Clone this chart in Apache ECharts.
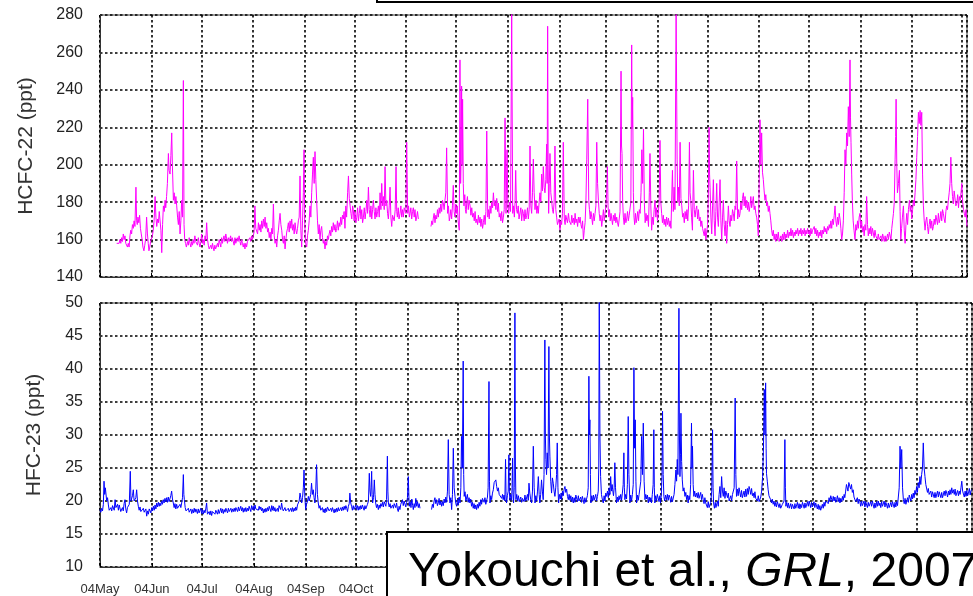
<!DOCTYPE html>
<html><head><meta charset="utf-8">
<script src="https://cdn.jsdelivr.net/npm/echarts@6/dist/echarts.min.js"></script>
<style>html,body{margin:0;padding:0;background:#fff}#c{width:973px;height:596px}</style>
</head><body><div id="c"></div>
<script>
// time origin: 1 May 2004; x values are days since then
const startDate = [2004, 4, 1];
const endDay = 521;
const monthNames = ['Jan','Feb','Mar','Apr','May','Jun','Jul','Aug','Sep','Oct','Nov','Dec'];
const yTop = {name: 'HCFC-22 (ppt)', min: 140, max: 280, step: 20};
const yBottom = {name: 'HFC-23 (ppt)', min: 10, max: 50, step: 5};
const citation = ['Yokouchi et al., ', 'GRL', ', 2007'];

// HCFC-22 (ppt): [day, value]
const hcfc22 = [
[10.0,158],[10.5,157],[11.0,159],[11.5,158],[12.0,160],[12.5,158],[13.0,161],[13.5,159],[14.0,163],[14.5,160],[15.0,162],[15.5,158],[16.0,157],[16.5,156],[17.0,158],[17.5,156],[18.0,162],[18.5,165],[19.0,163],[19.5,168],[20.0,166],[20.5,170],[21.0,167],[21.6,188],[22.0,170],[22.4,168],[22.8,172],[23.3,169],[23.8,173],[24.3,166],[24.8,163],[25.3,160],[25.8,156],[26.4,154],[26.9,157],[27.4,160],[28.0,172],[28.5,163],[29.0,158],[29.4,154],[29.9,156],[30.4,159],[31.0,160],[31.5,162],[32.0,165],[32.5,170],[33.1,183],[33.6,172],[34.1,167],[34.6,171],[35.1,169],[35.6,175],[36.1,174],[36.6,165],[37.1,153],[37.6,168],[38.1,178],[38.6,175],[39.1,181],[39.5,177],[40.0,183],[40.5,190],[41.1,206],[41.5,197],[42.1,195],[42.6,205],[43.1,217],[43.5,200],[44.1,181],[44.6,185],[45.1,179],[45.6,183],[46.1,178],[46.6,172],[47.1,168],[47.6,175],[48.1,163],[48.6,170],[49.1,181],[49.6,172],[50.1,245],[50.5,168],[50.9,160],[51.4,158],[51.9,156],
[52.6,159],[53.1,157],[53.6,161],[54.1,158],[54.6,156],[55.1,159],[55.6,157],[56.0,160],[56.5,158],[57.0,162],[57.5,159],[58.1,160],[58.6,157],[59.1,161],[59.6,158],[60.1,156],[60.6,159],[61.1,163],[61.6,158],[62.1,160],[62.6,157],[63.1,162],[63.6,160],[64.1,169],[64.6,160],[65.1,157],[65.6,155],[66.1,154],[66.6,157],[67.1,155],[67.6,158],[68.0,156],[68.5,154],[69.0,157],[69.5,155],[70.1,155],[70.6,158],[71.1,156],[71.6,160],[72.1,159],[72.6,156],[73.1,161],[73.6,158],[74.0,157],[74.5,162],[75.0,159],[75.6,163],[76.1,162],[76.6,158],[77.1,161],[77.6,159],[78.0,158],[78.5,162],[79.0,159],[79.5,161],[80.1,160],[80.6,157],[81.1,161],[81.6,158],[82.0,157],[82.5,161],[83.0,159],[83.6,162],[84.1,159],[84.6,157],[85.1,160],[85.6,158],[86.1,156],[86.6,158],[87.1,155],[87.6,158],[88.1,156],[88.6,159],[89.1,160],[89.6,158],[90.1,161],[90.6,159],[91.1,162],[91.6,160],[92.1,162],
[92.6,164],[93.1,178],[93.6,166],[94.2,167],[94.7,163],[95.2,169],[95.7,165],[96.2,168],[96.7,164],[97.2,170],[97.7,166],[98.2,171],[98.7,167],[99.2,172],[99.7,166],[100.2,169],[100.7,164],[101.2,166],[101.7,161],[102.2,164],[102.7,160],[103.2,166],[103.7,163],[104.2,179],[104.7,162],[105.2,158],[105.7,160],[106.2,156],[106.7,162],[107.2,165],[107.7,170],[108.2,174],[108.7,168],[109.2,165],[109.7,160],[110.2,158],[110.7,162],[111.2,155],[111.7,160],[112.2,164],[112.7,166],[113.2,169],[113.7,164],[114.2,170],[114.7,166],[115.2,171],[115.7,165],[116.2,168],[116.7,163],[117.2,169],[117.7,165],[118.2,163],[118.7,166],[119.2,170],[119.7,172],[120.2,194],[120.7,165],[121.2,156],[121.7,170],[122.2,185],[122.6,208],[123.0,170],[123.5,158],[124.2,156],[124.7,162],[125.2,165],[125.7,170],[126.2,178],[126.7,172],[127.2,185],[127.7,195],[128.2,204],[128.7,190],[129.2,207],[129.7,192],[130.2,181],[130.7,170],[131.2,163],[131.7,168],[132.2,160],[132.7,165],[133.2,167],[133.7,161],[134.2,158],[134.7,160],[135.2,155],[135.7,159],[136.2,157],[136.7,162],[137.2,160],
[137.7,163],[138.2,165],[138.7,162],[139.2,167],[139.7,164],[140.2,169],[140.7,165],[141.2,168],[141.7,164],[142.2,166],[142.7,170],[143.2,165],[143.7,169],[144.2,167],[144.7,172],[145.2,168],[145.7,173],[146.2,171],[146.7,175],[147.2,166],[147.7,178],[148.2,172],[148.8,185],[149.3,194],[149.8,182],[150.3,181],[150.8,174],[151.3,171],[151.8,178],[152.2,176],[152.7,170],[153.2,175],[153.8,169],[154.3,172],[154.8,177],[155.3,170],[155.8,174],[156.3,178],[156.8,171],[157.3,176],[157.8,169],[158.3,172],[158.8,177],[159.3,171],[159.8,175],[160.3,181],[160.8,174],[161.3,188],[161.8,176],[162.3,172],[162.8,178],[163.3,171],[163.8,176],[164.3,181],[164.8,175],[165.3,171],[165.8,177],[166.3,172],[166.8,175],[167.3,178],[167.8,172],[168.3,185],[168.8,176],[169.3,190],[169.8,178],[170.3,183],[170.8,176],[171.3,199],[171.8,178],[172.3,181],[172.8,174],[173.3,171],[173.8,178],[174.3,188],[174.8,172],[175.3,167],[175.8,173],[176.3,174],[176.8,170],[177.4,176],[177.9,199],[178.3,175],[178.7,172],[179.2,177],[179.7,171],[180.3,174],[180.8,178],[181.3,172],[181.8,176],[182.3,172],[182.8,177],[183.3,178],[183.8,174],[184.3,212],[184.9,174],[185.4,178],[185.9,172],[186.3,174],[186.8,177],[187.3,171],[187.8,175],[188.3,177],[188.8,172],[189.3,176],[189.8,170],[190.3,172],[190.8,175],[191.3,171],
[195,null],
[198.9,167],[199.4,170],[199.9,168],[200.3,171.5],[200.8,174],[201.3,169],[201.8,173],[202.3,171],[202.8,176],[203.3,172],[203.8,177],[204.3,174],[204.8,179],[205.3,175],[205.8,181],[206.3,179.5],[206.8,176],[207.3,181],[207.8,185],[208.3,209],[208.9,174],[209.4,178],[209.9,170],[210.3,172],[210.8,176],[211.3,171],[211.8,178],[212.3,189],[212.8,175],[213.3,172],[213.8,179],[214.3,174],[214.7,178],[215.2,170],[215.9,165],[216.3,256],[216.7,190],[216.9,199],[217.3,242],[217.6,200],[217.9,235],[218.3,190],[218.7,178],[219.2,184],[219.6,176],[220.0,174],[220.4,180],[220.8,183],[221.3,176],[221.8,181],[222.4,178],[222.9,173],[223.4,177],[223.9,172],[224.4,174],[224.9,170],[225.4,175],[225.9,169],[226.4,171],[226.9,168],[227.4,173],[227.9,169],[228.4,172],[228.9,167],[229.4,171],[229.9,166],[230.4,169],[230.9,173],[231.4,168],[231.9,175],[232.4,218],[233.0,172],[233.5,176],[233.9,171],[234.4,178],[234.9,174],[235.4,180],[235.9,177],[236.4,185],[236.9,178],[237.4,181],[237.9,176],[238.4,182],[238.9,175],[239.4,179.5],[239.9,172],[240.4,174],[240.9,170],[241.4,175],[241.9,169],[242.4,172],[242.9,176],[243.4,225],[244.0,174],[244.6,208],[245.1,178],[245.6,174],[246.1,180],[246.7,175],[247.4,281],[248.0,174],[248.5,178],[249.0,172],[249.4,180],[249.8,197],[250.3,176],[250.8,174],[251.3,178],[251.8,171],[252.4,172],[252.9,177],[253.4,170],[253.9,176],[254.4,174],[254.9,170],[255.4,176],[255.9,171],[256.4,173],[256.9,177],[257.4,171],[257.9,176],[258.4,210],[258.9,178],[259.4,174],[259.9,185],[260.4,203],[260.9,185],[261.4,176],[262.0,181],[262.5,174],[263.0,178],[263.4,174],[263.9,180],[264.4,185],[264.9,180],[265.4,195],[265.9,186],[266.4,199],[266.9,188],[267.4,185],[267.9,192],[268.4,211],[268.7,190],[269.0,274],[269.3,200],[269.6,174],[270.0,190],[270.4,206],[270.9,185],[271.4,181],[271.9,176],[272.4,174],[272.9,180],[273.4,210],[273.9,176],[274.4,172],[274.9,168],[275.4,167],[275.9,171],[276.4,165],[276.9,170],[277.4,168],[277.9,174],[278.4,212],[279.0,171],[279.5,168],[279.9,173],[280.4,172],[280.9,169],[281.5,174],[282.0,170],[282.5,171],[283.0,168],[283.5,173],[284.0,169],[284.5,171.5],[285.0,168],[285.5,174],[286.0,169],[286.5,171],[287.0,167],[287.5,172],[288.0,169],[288.5,172],[289.0,168],[289.5,166],[290.0,170],[290.5,160],[291.0,165],[291.5,169],[292.0,180],[292.5,203],[293.1,235],[293.7,181],[294.1,176],[294.6,171],[295.0,175],[295.5,172],[296.0,168],[296.5,174],[297.0,170],[297.5,174],[298.0,178],[298.5,212],[299.0,190],[299.5,181],[300.0,174],[300.5,170],[301.0,173],[301.5,167],[302.0,171],[302.5,176],[303.0,170],[303.5,174],[304.0,178],[304.5,185],[304.9,199],[305.3,178],[305.7,172],[306.2,176],[306.6,170],[307.1,174],[307.5,171],[308.0,168],[308.5,173],[309.0,170],[309.5,174],[310.0,169],[310.5,172],[311.0,169],[311.5,167],[312.0,171],[312.5,175],[313.1,250],[313.4,210],[313.7,206],[314.1,180],[314.5,172],[315.0,168],[315.5,174],[316.0,169],[316.5,171],[317.0,175],[317.5,170],[318.0,173],[318.5,174],[319.0,180],[319.5,264],[319.8,220],[320.1,236],[320.5,185],[320.9,172],[321.3,168],[321.8,174],[322.2,169],[322.6,171],[323.1,175],[323.6,170],[324.1,176],[324.6,174],[325.1,185],[325.6,208],[326.1,190],[326.6,219],[327.1,180],[327.6,169],[328.1,174],[328.6,170],[329.1,173],[329.6,167],
[330.1,185],[330.5,206],[331.0,178],[331.5,165],[332.0,172],[332.5,168],[333.0,176],[333.5,181],[334.0,172],[334.5,177],[335.0,170],[335.5,174],[336.0,180],[336.5,213],[337.0,180],[337.5,174],[338.0,169],[338.5,173],[339.0,168],[339.5,171],[340.0,167],[340.5,172],[341.0,168],[341.6,171.5],[342.1,167],[342.6,170],[343.1,166],[343.6,167],[344.0,197],[344.5,175],[345.0,188],[345.5,176],[346.2,281],[346.8,203],[347.2,180],[347.6,188],[348.1,178],[348.6,212],[349.1,182],[349.6,178],[350.1,172],[350.6,174],[351.1,169],[351.6,175],[352.2,171],[352.7,176],[353.2,170],[353.7,178],[354.2,212],[354.6,185],[355.0,181],[355.5,172],[356.0,165],[356.6,197],[357.1,176],[357.6,172],[358.1,176],[358.6,178],[359.1,171],[359.6,176],[360.1,170],[360.6,172],[361.1,167],[361.6,170],[362.1,166],[362.6,165],[363.1,162],[363.6,166],[364.1,160],[364.6,160],[365.1,168],[365.5,180],[366.0,220],[366.3,195],[366.6,188],[367.1,172],[367.6,163],[368.1,178],[368.6,192],[369.1,170],[369.6,162],[370.1,175],[370.6,190],[371.1,172],[371.6,167],[372.1,180],[372.6,192],[373.1,170],[373.6,160],[374.1,172],[374.6,181],[375.1,168],[375.6,162],[376.1,170],[376.6,158],[377.1,168],[377.6,178],[378.1,170],[378.6,167],[379.1,173],[379.6,170],[380.1,176],[380.6,174],[381.1,170],[381.6,178],[382.1,176],[382.6,202],[383.2,171],[383.7,176],[384.2,172],[384.6,174],[385.1,180],[385.6,176],[386.1,182],[386.6,185],[387.1,178],[387.6,183],[388.1,177],[388.6,181],[389.1,176],[389.6,180],[390.1,175],[390.6,178],[391.1,183],[391.6,177],[392.1,180],[392.6,183],[393.1,176],[393.6,178],[394.1,174],[394.6,172],[395.1,168],[395.6,162],[396.1,190],[396.6,224],[397.1,200],[397.6,217],[398.1,196],[398.6,192],[399.1,186],[399.6,181],[400.1,184],[400.6,178],[401.1,180],[401.6,175],[402.1,178],[402.6,174],[403.1,170],[403.6,165],[404.1,162],[404.6,165],[405.1,160],[405.6,163],[406.1,159],[406.6,163],[407.1,160],[407.6,164],[408.1,159],[408.7,158],[409.2,162],[409.7,159],
[410.2,163],[410.7,160],[411.2,164],[411.7,160],[412.2,163],[412.7,161],[413.2,165],[413.7,161],[414.2,164],[414.7,162],[415.2,166],[415.7,162],[416.2,165],[416.7,161],[417.2,164],[417.7,162],[418.2,165],[418.7,163],[419.2,166],[419.7,162],[420.2,165],[420.7,163],[421.2,166],[421.7,162],[422.2,165],[422.7,163],[423.2,166],[423.7,162],[424.2,165],[424.7,163],[425.2,166],[425.7,163],[426.2,165],[426.7,162],[427.2,166],[427.7,163],[428.2,165],[428.7,164],[429.2,167],[429.7,163],[430.2,166],[430.7,162],[431.2,165],[431.7,161],[432.2,164],[432.7,162],[433.2,165],[433.7,161],[434.2,165],[434.7,163],[435.2,167],[435.7,164],[436.2,166],[436.7,163],[437.2,167],[437.7,165],[438.2,168],[438.7,166],[439.2,170],[439.7,166],[440.2,171],[440.7,168],[441.2,173],[441.7,178],[442.2,170],[442.7,167],[443.2,172],[443.7,168],[444.2,174],[444.7,171],[445.2,166],[445.7,160],
[446.2,163],[446.7,170],[447.2,185],[447.7,208],[448.2,200],[448.7,217],[449.2,210],[449.7,231],[450.2,215],[450.7,256],[451.0,225],[451.3,212],[451.7,195],[452.1,181],[452.6,170],[453.1,165],[453.7,160],[454.2,168],[454.7,165],[455.2,170],[455.7,166],[456.2,172],[456.7,174],[457.2,166],[457.7,170],[458.2,164],[458.7,167],[459.2,162],[459.7,168],[460.2,165],[460.7,183],[461.2,168],[461.7,162],[462.2,166],[462.7,163],[463.2,167],[463.7,162],[464.2,166],[464.7,165],[465.2,161],[465.7,165],[466.2,162],[466.7,163],[467.2,160],[467.7,163],[468.2,160],[468.8,159],[469.3,162],[469.8,159],[470.3,163],[470.8,162],[471.3,159],[471.8,162],[472.3,159],[472.8,160],[473.3,163],[473.8,160],[474.3,164],[474.8,163],[475.3,160],[475.8,166],[476.3,170],[476.8,174],[477.3,180],[477.8,203],[478.1,215],[478.4,235],[478.8,200],[479.2,185],[479.8,190],[480.4,197],[480.8,175],[481.2,160],[481.7,166],[482.2,172],[482.8,178],[483.3,165],[483.8,158],[484.3,168],[484.8,174],[485.3,168],[485.8,176],[486.4,181],[486.9,175],[487.3,178],[487.8,171],[488.3,176],[488.8,181],[489.3,178],[489.8,185],[490.3,192],[490.8,204],[491.3,215],[491.8,228],[492.3,222],[492.8,229],[493.3,221],[493.8,228],[494.3,195],[494.8,178],[495.3,170],[495.8,165],[496.3,170],[496.8,172],[497.3,167],[497.8,163],[498.3,168],[498.8,171],[499.3,166],[499.8,170],[500.3,165],[500.8,167],[501.3,171],[501.8,168],[502.3,173],[502.8,172],[503.3,168],[503.8,174],[504.3,169],[504.8,171],[505.3,175],[505.8,170],[506.3,176],[506.8,174],[507.3,171],[507.8,169],[508.3,175],[508.8,178],[509.3,176],[509.8,181],[510.3,185],[510.8,190],[511.3,204],[511.8,190],[512.3,183],[512.8,179],[513.3,186],[513.8,185],[514.3,178],[514.9,179.5],[515.4,184],[515.9,177],[516.4,183],[516.9,181],[517.4,185],[517.9,190],[518.4,180],[518.9,176],[519.4,174],[519.9,172],[520.4,176],[521.0,167]
];

// HFC-23 (ppt): [day, value]
const hfc23 = [
[0,18.7],[0.5,18.3],[1.0,18.9],[1.5,18.5],[2.0,19.5],[2.4,23.0],[2.8,21.0],[3.2,22.0],[3.6,21.7],[4.0,20.0],[4.5,20.5],[5.0,19.4],[5.5,18.6],[6.0,18.4],[6.5,19.0],[7.0,18.5],[7.5,19.3],[8.0,19.4],[8.5,18.6],[9.0,20.2],[9.5,19.0],[10.0,18.7],[10.5,19.5],[11.0,18.6],[11.5,19.4],[11.9,19.2],[12.4,18.4],[12.9,18.2],[13.4,19.0],[13.9,18.5],[14.4,19.6],[14.9,20.2],[15.4,18.8],[15.9,18.2],[16.4,19.0],[16.9,18.7],[17.5,19.5],[18.1,24.5],[18.5,20.0],[18.9,19.7],[19.4,20.8],[19.9,21.7],[20.4,20.0],[20.9,19.7],[21.4,20.5],[21.9,21.7],[22.4,20.0],[22.9,19.2],[23.4,18.6],[23.9,19.1],[24.4,18.4],[24.9,18.7],[25.4,18.2],[25.9,18.9],[26.4,18.3],[26.9,18.2],[27.4,18.8],[27.9,17.7],[28.4,18.5],[28.9,18.0],[29.4,18.8],[29.9,18.7],[30.4,18.2],[30.9,19.0],[31.4,18.5],[31.9,19.2],[32.4,18.6],[32.9,19.4],[33.4,18.8],[33.9,19.7],[34.4,19.1],[34.9,19.8],[35.4,19.2],[35.8,19.7],[36.3,19.3],[36.8,20.0],[37.3,19.5],[37.8,20.2],[38.3,19.7],[38.8,20.4],[39.3,19.9],[39.8,20.5],[40.3,19.8],[40.8,20.6],[41.3,19.9],[41.8,20.2],[42.3,20.8],[42.8,21.5],[43.3,20.3],[43.8,19.7],[44.3,19.0],[44.8,19.6],[45.3,18.8],[45.8,19.5],[46.3,18.9],[46.8,19.2],[47.3,18.6],[47.8,19.5],[48.3,19.0],[48.8,19.7],[49.3,20.5],[49.8,24.0],[50.1,21.0],[50.4,20.2],[50.9,19.0],[51.4,18.5],[51.8,18.7],[52.3,18.2],[52.8,18.9],[53.3,18.3],[53.8,18.2],[54.3,18.8],[54.8,18.1],[55.3,18.7],[55.8,18.2],[56.3,18.9],[56.8,18.3],[57.3,18.8],[57.7,18.7],[58.2,18.1],[58.7,18.8],[59.2,18.2],[59.7,18.4],[60.2,18.9],[60.7,18.1],[61.2,18.7],[61.7,18.0],[62.2,18.6],[62.7,18.2],[63.2,18.8],[63.7,19.7],[64.2,18.0],[64.7,17.7],[65.2,18.4],[65.7,17.9],[66.2,18.5],[66.7,17.8],[67.2,18.4],[67.7,18.2],[68.2,18.7],[68.7,18.0],[69.2,18.6],[69.7,18.6],[70.2,18.0],[70.7,18.7],[71.2,18.1],[71.7,18.4],[72.2,18.9],[72.7,18.2],[73.2,18.8],[73.7,18.1],[74.2,18.7],[74.7,18.3],[75.2,18.9],[75.7,18.7],[76.2,18.2],[76.7,18.9],[77.2,18.4],[77.7,18.3],[78.2,18.9],[78.7,18.3],[79.2,18.8],[79.7,18.4],[80.2,18.9],[80.7,18.4],[81.2,19.0],[81.7,18.9],[82.2,18.4],[82.7,19.1],[83.2,18.5],[83.6,18.7],[84.1,19.2],[84.6,18.5],[85.1,19.0],[85.6,18.3],[86.1,18.9],[86.6,18.4],[87.1,19.0],[87.6,18.4],[88.1,18.9],[88.6,18.5],[89.1,19.2],[89.6,18.9],[90.1,18.4],[90.6,19.3],[91.1,18.7],[91.6,19.2],[92.1,18.6],[92.6,19.4],[93.1,18.8],[93.6,18.5],[94.1,19.1],[94.6,18.6],[95.1,19.2],[95.6,18.7],[96.1,19.1],[96.6,18.5],[97.1,18.9],[97.6,18.2],[98.1,18.8],[98.6,18.3],[99.1,18.9],[99.6,18.4],[100.1,19.0],[100.6,18.5],[101.1,19.2],[101.6,18.9],[102.1,18.4],[102.6,19.3],[103.0,18.6],[103.5,19.2],[104.0,18.5],[104.5,19.0],[105.0,18.4],[105.5,18.2],[106.0,18.9],[106.5,18.4],[107.0,19.3],[107.5,19.2],[108.0,18.7],[108.5,19.7],[109.0,18.9],[109.5,18.5],[110.0,18.4],[110.5,19.0],[111.0,18.5],[111.5,18.7],[112.0,18.3],[112.5,18.9],[113.0,18.4],[113.5,18.3],[114.0,18.9],[114.5,18.4],[115.0,19.0],[115.5,18.4],[116.0,18.9],[116.5,18.5],[117.0,19.1],[117.5,18.6],[118.0,19.4],[118.5,19.2],[119.0,20.0],[119.5,21.2],[120.0,20.5],[120.5,19.7],[121.0,20.5],[121.5,22.0],[121.9,24.7],[122.4,20.5],[122.9,18.7],[123.4,19.5],[124.0,20.0],[124.5,20.7],[125.0,20.0],[125.4,19.7],[125.9,21.0],[126.4,22.7],[126.9,21.0],[127.4,21.7],[127.9,20.5],[128.4,19.7],[128.9,21.5],[129.4,25.5],[129.9,21.0],[130.4,19.7],[130.9,18.9],[131.4,19.3],[131.9,18.6],[132.4,18.4],[132.9,19.0],[133.4,18.3],[133.9,18.8],[134.4,18.2],[134.9,18.9],[135.4,18.4],[135.9,19.1],[136.4,18.9],[136.9,18.5],
[137.4,18.3],[137.9,18.9],[138.4,18.4],[138.9,19.0],[139.4,18.7],[139.9,18.2],[140.4,18.8],[140.9,18.3],[141.4,18.9],[141.9,18.4],[142.4,19.0],[142.9,18.5],[143.4,18.4],[143.9,19.0],[144.4,18.5],[144.9,19.1],[145.4,18.6],[145.9,19.2],[146.4,18.7],[146.9,19.3],[147.4,18.9],[147.9,18.4],[148.4,19.2],[148.9,19.6],[149.3,21.2],[149.8,19.7],[150.3,19.2],[150.8,18.6],[151.3,19.3],[151.8,18.7],[152.3,18.9],[152.8,19.4],[153.3,18.7],[153.8,19.3],[154.3,18.6],[154.8,19.2],[155.3,18.7],[155.8,19.3],[156.3,18.8],[156.8,19.4],[157.3,19.1],[157.8,18.6],[158.3,19.3],[158.8,18.8],[159.3,18.9],[159.8,19.5],[160.4,20.0],[160.9,24.2],[161.3,21.5],[161.7,20.7],[162.0,22.0],[162.3,24.5],[162.6,21.0],[162.9,19.7],[163.4,20.5],[163.9,23.2],[164.3,21.0],[164.7,19.7],[165.2,19.0],[165.7,19.5],[166.3,18.7],[166.8,19.4],[167.3,18.9],[167.8,19.6],[168.3,19.2],[168.8,19.8],[169.3,19.1],[169.8,19.9],[170.3,19.7],[170.8,19.2],[171.2,20.2],[171.7,26.8],[172.0,21.5],[172.3,19.7],[172.8,19.1],[173.3,19.6],[173.8,18.9],[174.3,18.7],[174.8,19.4],[175.3,18.9],[175.8,19.6],[176.2,19.7],[176.7,19.0],[177.2,19.7],[177.7,18.8],[178.2,18.4],[178.7,19.2],[179.2,18.7],[179.7,19.5],[180.2,19.2],[180.7,20.2],[181.2,19.3],[181.7,20.0],[182.2,19.7],[182.7,19.1],[183.2,19.8],[183.7,20.5],[184.2,23.7],[184.6,20.3],[184.8,19.2],[185.3,19.9],[185.8,19.0],[186.3,20.3],[186.8,19.3],[187.2,18.7],[187.7,19.6],[188.2,19.0],[188.7,20.4],[189.2,19.2],[189.7,19.9],[190.2,19.0],[190.7,19.6],[191.2,18.9],
[195,null],
[198.1,18.7],[198.6,19.5],[199.1,19.0],[199.6,20.0],[200.1,20.5],[200.6,19.6],[201.1,20.2],[201.6,19.3],[202.1,19.7],[202.6,20.4],[203.1,19.4],[203.6,20.0],[204.1,19.2],[204.6,19.9],[205.1,19.3],[205.6,20.3],[206.1,19.7],[206.6,20.6],[207.1,19.8],[207.6,21.5],[208.1,29.3],[208.6,21.0],[209.1,19.7],[209.6,20.5],[210.1,18.7],[210.6,21.0],[211.1,28.0],[211.6,22.0],[212.1,20.7],[212.6,19.6],[213.1,19.2],[213.6,20.3],[214.1,19.4],[214.6,20.6],[215.1,19.7],[215.6,22.0],[216.0,29.8],[216.5,25.0],[217.0,41.2],[217.3,24.0],[217.6,20.7],[218.1,21.4],[218.6,20.0],[219.0,20.2],[219.5,21.0],[220.0,19.8],[220.5,20.5],[221.0,19.7],[221.5,20.3],[222.0,19.2],[222.5,19.8],[223.0,18.9],[223.5,19.6],[224.0,18.8],[224.5,19.4],[225.0,18.7],[225.5,19.5],[226.0,18.9],[226.5,19.8],[227.0,19.2],[227.5,20.2],[228.0,19.5],[228.5,20.4],[229.0,20.7],[229.5,19.8],[230.0,20.5],[230.5,19.5],[231.0,19.7],[231.5,20.6],[231.9,22.0],[232.4,38.1],[232.7,23.0],[233.0,19.7],[233.5,20.8],[234.0,20.2],[234.5,21.2],[235.0,21.7],[235.5,22.8],[236.0,22.5],[236.5,23.2],[237.0,22.2],[237.5,21.5],[238.0,22.0],[238.5,21.0],[239.0,20.7],[239.5,21.3],[240.0,20.4],[240.5,21.0],[240.9,20.2],[241.4,20.9],[241.9,20.0],[242.3,26.3],[242.6,21.0],[242.9,19.7],[243.4,20.8],[243.9,21.5],[244.3,27.0],[244.6,21.5],[244.9,20.2],[245.4,21.0],[245.9,20.1],[246.2,22.0],[246.5,26.5],[246.8,21.0],[247.1,19.7],[247.5,22.0],[247.9,48.5],[248.2,25.0],[248.5,20.2],[249.0,21.0],[249.5,20.0],[250.0,20.8],[250.5,19.9],[250.9,19.7],[251.4,20.6],[251.9,19.8],[252.4,20.4],[252.9,20.7],[253.4,19.9],[253.9,20.9],[254.4,20.0],[254.9,20.2],[255.4,21.0],[255.9,20.1],[256.3,22.7],[256.8,21.2],[257.3,20.3],[257.9,19.7],[258.4,21.5],[258.9,28.3],[259.4,22.0],[259.9,19.7],[260.4,20.8],[260.9,20.0],[261.4,21.5],[261.9,23.7],[262.4,21.0],[262.8,19.7],[263.3,21.0],[263.8,23.2],[264.3,21.5],[264.8,20.2],[265.3,24.0],[265.8,44.4],[266.1,30.0],[266.4,26.3],[266.8,24.0],[267.2,27.3],[267.7,25.0],[268.2,43.4],[268.5,30.0],[268.8,26.8],[269.3,23.0],[269.8,21.2],[270.3,23.5],[270.8,22.7],[271.3,21.5],[271.8,20.7],[272.3,22.0],[272.8,24.0],[273.2,28.8],[273.6,22.0],[274.0,19.7],[274.5,21.0],[275.0,20.3],[275.5,21.2],[275.8,20.2],[276.3,21.5],[276.8,20.8],[277.3,21.8],[277.8,22.2],[278.3,21.3],[278.8,21.8],[279.3,20.7],[279.8,20.2],[280.3,21.0],[280.8,20.1],[281.3,20.8],[281.8,19.9],[282.3,20.6],[282.8,19.7],[283.3,20.5],[283.8,19.8],[284.3,20.9],[284.8,20.7],[285.3,19.9],[285.8,20.8],[286.2,20.0],[286.7,19.7],[287.2,20.6],[287.7,19.8],[288.2,20.7],[288.7,20.2],[289.2,19.6],[289.7,20.5],[290.2,19.8],[290.7,19.7],[291.2,20.8],[291.7,22.0],[292.1,38.9],[292.4,30.0],[292.7,32.3],[293.0,24.0],[293.3,19.7],[293.8,20.8],[294.3,20.0],[294.8,20.9],[295.2,20.1],[295.7,20.2],[296.2,21.0],[296.7,20.0],[297.2,20.7],[297.7,21.5],[298.0,25.0],[298.3,50.5],[298.7,30.0],[299.1,23.7],[299.6,21.0],[300.1,20.3],[300.7,19.7],[301.2,20.8],[301.7,20.0],[302.2,21.2],[302.7,20.7],[303.2,21.5],[303.7,20.5],[304.2,22.0],[304.7,21.0],[305.1,23.7],[305.6,21.5],[306.0,22.5],[306.3,21.7],[306.8,20.8],[307.2,22.0],[307.6,25.8],[308.0,22.0],[308.6,19.7],[309.1,20.6],[309.6,19.9],[310.1,20.8],[310.6,20.2],[311.1,21.0],[311.6,20.1],[312.1,21.2],[312.6,22.5],[313.0,27.3],[313.3,22.0],[313.6,20.2],[314.1,21.0],[314.6,20.3],[315.1,22.5],[315.6,32.8],[316.0,24.0],[316.6,19.7],[317.1,20.9],[317.6,20.0],[318.1,21.0],[318.6,22.5],[319.0,40.2],[319.4,28.0],[319.8,32.3],[320.2,23.0],[320.6,19.7],[321.1,20.9],[321.6,20.1],[322.1,21.0],[322.6,20.7],[323.1,23.0],[323.6,29.8],[324.1,24.0],[324.6,31.8],[325.1,23.0],[325.6,20.2],[326.1,21.0],[326.6,20.3],[327.1,20.9],[327.6,19.7],[328.1,20.6],[328.6,19.9],[329.1,20.5],
[329.5,19.7],[330.0,21.0],[330.5,22.5],[330.9,30.8],[331.2,22.0],[331.5,19.7],[332.0,20.8],[332.5,20.0],[333.0,21.0],[333.5,20.7],[334.0,19.9],[334.5,20.8],[334.9,19.7],[335.4,21.0],[335.8,24.0],[336.1,33.6],[336.5,24.0],[336.9,20.7],[337.4,20.0],[337.9,20.9],[338.5,20.2],[339.0,21.0],[339.5,20.1],[340.0,20.9],[340.5,20.5],[341.0,19.8],[341.5,20.7],[342.0,19.9],[342.5,20.2],[343.0,21.0],[343.5,22.5],[344.1,24.7],[344.5,23.0],[344.9,26.3],[345.3,24.0],[345.9,49.2],[346.2,30.0],[346.5,23.7],[346.8,27.0],[347.1,33.3],[347.5,26.0],[347.9,23.2],[348.4,21.5],[348.9,22.0],[349.5,20.7],[350.0,21.3],[350.5,20.2],[351.0,20.9],[351.4,19.7],[351.9,20.8],[352.4,20.2],[352.9,22.5],[353.4,31.8],[353.7,25.0],[354.0,28.3],[354.4,22.5],[354.8,20.7],[355.3,21.5],[355.8,20.6],[356.4,21.2],[356.9,20.5],[357.4,21.3],[357.9,20.4],[358.4,20.7],[358.9,21.3],[359.4,20.2],[359.9,21.0],[360.4,20.2],[360.9,19.6],[361.4,20.5],[361.9,19.7],[362.4,19.7],[362.9,19.0],[363.4,19.9],[363.9,19.0],[364.4,18.7],[364.9,19.8],[365.5,21.5],[366.0,30.8],[366.3,22.0],[366.6,19.7],[367.1,18.9],[367.6,19.8],[368.0,19.0],[368.4,18.7],[368.9,20.0],[369.4,19.2],[369.9,21.0],[370.4,22.2],[370.9,20.5],[371.4,23.7],[371.9,21.5],[372.4,20.7],[372.9,22.0],[373.4,20.4],[373.9,21.5],[374.4,21.7],[374.9,20.5],[375.4,21.2],[375.9,20.0],[376.4,19.7],[376.9,20.8],[377.4,20.0],[377.9,21.0],[378.4,20.7],[378.9,22.0],[379.5,35.6],[379.9,24.0],[380.3,20.7],[380.8,21.8],[381.3,20.8],[381.8,22.0],[382.3,21.7],[382.8,20.6],[383.3,21.6],[383.8,20.5],[384.3,20.7],[384.8,21.5],[385.3,20.6],[385.8,21.8],[386.3,20.7],[386.8,21.9],[387.3,21.0],[387.8,22.2],[388.3,21.7],[388.8,21.0],[389.3,21.9],[389.8,20.8],[390.3,21.2],[390.8,20.5],[391.3,21.4],[391.8,20.4],[392.3,20.7],[392.8,20.0],[393.3,20.8],[393.8,19.9],[394.3,19.7],[394.8,20.6],[395.3,21.5],[395.9,23.7],[396.4,28.0],[396.9,36.9],[397.3,30.0],[397.7,37.9],[398.0,28.0],[398.2,24.2],[398.7,23.0],[399.2,21.7],[399.7,20.8],[400.2,21.0],[400.7,20.2],[401.2,19.7],[401.7,20.3],[402.2,19.5],[402.7,20.0],[403.2,19.2],[403.7,19.8],[404.2,19.1],[404.7,19.9],[405.2,19.7],[405.7,19.0],[406.2,19.6],[406.7,18.9],[407.2,18.7],[407.7,19.5],[408.2,19.2],[408.7,20.0],[409.2,29.3],[409.5,22.0],[409.8,19.2],
[410.3,19.8],[410.8,19.0],[411.3,19.7],[411.8,18.9],[412.2,18.9],[412.7,19.6],[413.2,18.8],[413.7,19.5],[414.2,19.3],[414.7,18.8],[415.2,19.6],[415.7,18.9],[416.2,19.2],[416.7,19.8],[417.2,18.9],[417.7,19.6],[418.2,18.8],[418.7,19.5],[419.2,19.0],[419.7,19.8],[420.2,19.4],[420.7,18.9],[421.2,19.7],[421.7,19.0],[422.2,19.0],[422.7,19.9],[423.2,19.2],[423.7,20.0],[424.1,19.7],[424.6,19.0],[425.1,19.8],[425.6,19.1],[426.1,19.2],[426.6,19.9],[427.1,19.0],[427.6,19.7],[428.1,19.4],[428.6,18.8],[429.1,19.5],[429.6,18.7],[430.1,19.3],[430.6,18.6],[431.1,18.7],[431.6,19.5],[432.1,18.9],[432.6,19.8],[433.1,19.2],[433.6,20.0],[434.1,19.7],[434.6,20.3],[435.1,19.6],[435.6,20.5],[436.1,19.9],[436.6,20.8],[437.1,20.5],[437.6,19.9],[438.1,20.7],[438.6,20.0],[439.1,20.6],[439.6,19.8],[440.1,20.2],[440.6,20.8],[441.1,19.9],[441.6,20.5],[442.1,19.7],[442.6,20.4],[443.1,19.9],[443.6,20.7],[444.1,20.1],[444.6,21.0],[445.0,20.5],[445.5,21.5],[446.0,22.5],[446.4,22.2],[446.9,21.5],[447.4,22.8],[448.0,22.7],[448.5,21.8],[449.0,22.5],[449.5,21.3],[450.0,21.7],[450.5,20.6],[451.0,20.9],[451.5,19.9],[452.0,19.7],[452.5,20.5],[453.0,19.6],[453.5,20.3],[454.0,19.9],[454.5,19.2],[455.0,20.0],[455.5,19.3],[456.0,19.3],[456.5,20.0],[457.0,19.1],[457.5,19.9],[458.0,19.7],[458.5,19.0],[459.0,19.8],[459.5,19.2],[460.0,19.1],[460.5,19.9],[461.0,19.2],[461.5,20.0],[462.0,19.4],[462.5,18.9],[463.0,19.7],[463.5,19.0],[464.0,19.9],[464.5,19.2],[465.0,20.0],[465.5,19.3],[466.0,19.7],[466.5,19.0],[467.0,19.9],[467.5,19.2],[468.0,19.2],[468.5,20.0],[469.0,19.1],[469.5,19.8],[470.0,19.4],[470.5,18.9],[471.0,19.7],[471.5,19.0],[472.0,19.0],[472.5,19.8],[473.0,19.1],[473.5,19.9],[474.0,19.7],[474.5,19.0],[475.0,19.8],[475.5,19.1],[476.0,19.9],[476.5,19.3],[477.0,19.4],[477.5,22.0],[478.0,28.3],[478.5,25.0],[479.0,27.8],[479.5,22.0],[480.0,20.2],[480.5,19.6],[481.0,20.4],[481.5,19.5],[482.0,19.7],[482.5,20.5],[483.0,19.8],[483.5,20.9],[484.0,20.7],[484.5,20.0],[485.0,21.0],[485.5,20.3],[485.9,21.2],[486.4,20.5],[486.9,21.6],[487.4,21.0],[487.9,22.2],[488.4,21.3],[488.9,22.8],[489.4,22.0],[489.9,23.7],[490.4,22.5],[490.9,24.0],[491.4,25.0],[491.9,28.8],[492.4,25.0],[492.9,23.7],[493.4,22.5],[493.9,22.2],[494.4,21.3],[494.9,21.9],[495.4,21.0],[495.9,20.7],[496.4,21.5],[496.9,20.6],[497.4,21.4],[497.9,21.2],[498.4,20.5],[498.9,21.3],[499.4,20.5],[499.9,20.7],[500.4,21.5],[500.9,20.6],[501.4,21.4],[501.9,21.2],[502.4,20.5],[502.9,21.3],[503.4,20.5],[503.9,20.7],[504.4,21.5],[504.9,20.8],[505.4,21.6],[505.9,21.2],[506.4,20.6],[506.9,21.5],[507.4,20.9],[507.9,21.7],[508.4,21.0],[508.9,22.0],[509.4,21.2],[509.9,21.7],[510.4,21.0],[510.9,21.8],[511.4,20.8],[511.9,20.9],[512.4,21.6],[512.9,20.8],[513.4,21.5],[513.9,21.0],[514.4,22.0],[514.9,23.0],[515.4,21.5],[515.9,21.2],[516.4,20.6],[516.9,21.5],[517.4,20.7],[517.9,21.6],[518.4,20.8],[518.9,21.2],[519.4,21.9],[519.9,20.9],[520.4,21.6],[520.9,21.7]
];

const DAY = 86400000;
const base = new Date(startDate[0], startDate[1], startDate[2]).getTime();
const toTs = d => base + d * DAY;
const mk = arr => arr.map(p => [toTs(p[0]), p[1] === null ? '-' : p[1]]);
const fmtMonth = v => { const d = new Date(v); return String(d.getFullYear()).slice(2) + monthNames[d.getMonth()]; };

const chart = echarts.init(document.getElementById('c'), null, {renderer: 'canvas'});
const gridLine = {show: true, lineStyle: {color: '#000', width: 1.6, type: [2.5, 2.5]}};
const axisFont = 'Liberation Sans, Arial, sans-serif';

function xAxisDef(gi, showLabel) {
  return {
    type: 'time', gridIndex: gi, min: toTs(0), max: toTs(endDay),
    splitNumber: 17, minInterval: 28 * DAY, maxInterval: 31 * DAY,
    axisLine: {show: true, onZero: false, lineStyle: {color: '#333', width: 1}},
    axisTick: {show: true, inside: true, length: 4, lineStyle: {color: '#000'}},
    axisLabel: {show: showLabel, formatter: fmtMonth, fontSize: 13, color: '#333', margin: 16, fontFamily: axisFont, hideOverlap: false},
    splitLine: gridLine, minorTick: {show: false}, minorSplitLine: {show: false}
  };
}
function yAxisDef(gi, cfg, gap) {
  return {
    type: 'value', gridIndex: gi, min: cfg.min, max: cfg.max, interval: cfg.step,
    name: cfg.name, nameLocation: 'middle', nameGap: gap, nameRotate: 90,
    nameTextStyle: {fontSize: 21, color: '#333', fontFamily: axisFont},
    axisLine: {show: true, lineStyle: {color: '#333', width: 1}},
    axisTick: {show: false},
    axisLabel: {fontSize: 16, color: '#222', margin: 17, fontFamily: axisFont},
    splitLine: gridLine
  };
}

chart.setOption({
  animation: false,
  backgroundColor: '#fff',
  grid: [
    {left: 100, top: 15, width: 867, height: 262, show: true, borderColor: '#333', borderWidth: 1, backgroundColor: 'transparent', containLabel: false, outerBoundsMode: 'none'},
    {left: 100, top: 303, width: 872, height: 264, show: true, borderColor: '#333', borderWidth: 1, backgroundColor: 'transparent', containLabel: false, outerBoundsMode: 'none'}
  ],
  xAxis: [xAxisDef(0, false), xAxisDef(1, true)],
  yAxis: [yAxisDef(0, yTop, 63), yAxisDef(1, yBottom, 55)],
  series: [
    {type: 'line', xAxisIndex: 0, yAxisIndex: 0, data: mk(hcfc22), symbol: 'none', showSymbol: false, clip: true, connectNulls: false, lineStyle: {color: '#ff00ff', width: 1}, z: 3},
    {type: 'line', xAxisIndex: 1, yAxisIndex: 1, data: mk(hfc23), symbol: 'none', showSymbol: false, clip: true, connectNulls: false, lineStyle: {color: '#0000ff', width: 1}, z: 3}
  ],
  graphic: [
    {type: 'rect', z: 100, shape: {x: 377, y: -10, width: 620, height: 12}, style: {fill: '#fff', stroke: '#000', lineWidth: 2}},
    {type: 'rect', z: 100, shape: {x: 387, y: 532, width: 620, height: 80}, style: {fill: '#fff', stroke: '#000', lineWidth: 2}},
    {type: 'text', z: 101, x: 408, y: 573, style: {
      text: '{a|' + citation[0] + '}{b|' + citation[1] + '}{a|' + citation[2] + '}',
      verticalAlign: 'middle', align: 'left',
      rich: {
        a: {fontSize: 48, fontFamily: axisFont, fill: '#000'},
        b: {fontSize: 48, fontFamily: axisFont, fontStyle: 'italic', fill: '#000'}
      }
    }}
  ]
});
</script>
</body></html>
